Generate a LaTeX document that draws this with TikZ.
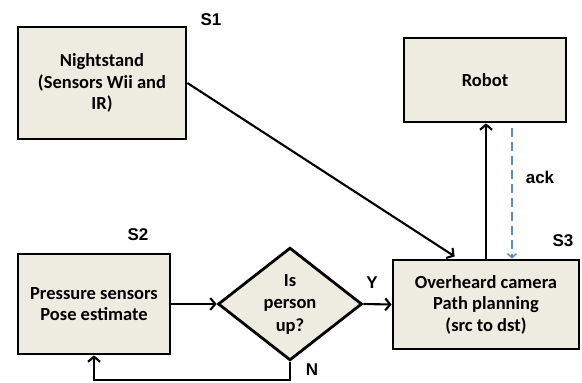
\documentclass[tikz,border=0pt]{standalone}
\usepackage{fontspec}
\setmainfont{Carlito}
\newfontfamily\tagfont{Liberation Sans}
\usetikzlibrary{shapes.geometric,arrows.meta}
\definecolor{boxfill}{HTML}{EEECE1}
\definecolor{ackblue}{HTML}{5B8BC6}
\tikzset{
  block/.style={
    % The shape:
    shape=rectangle,inner sep=0pt,
    % The border:
    line width=2.8pt,draw=black,
    % The filling:
    fill=boxfill,
    % The text:
    align=center,font=\bfseries\fontsize{18.5}{21.5}\selectfont}}
\tikzset{
  test/.style={
    % The shape:
    diamond,inner sep=0pt,
    % The rest
    line width=2.8pt,draw=black,fill=boxfill,
    align=center,font=\bfseries\fontsize{18.5}{22.5}\selectfont}}
\tikzset{
  tag/.style={font=\tagfont\bfseries\fontsize{17}{20}\selectfont,inner sep=0pt},
  flow/.style={line width=2.1pt,-{Straight Barb[length=5pt,width=12pt,line width=2.1pt]}},
  ackline/.style={line width=1.5pt,draw=ackblue,dash pattern=on 9pt off 5pt,
    -{Straight Barb[length=4pt,width=9pt,line width=1.5pt]}}}

\begin{document}
\begin{tikzpicture}[x=1pt,y=-1pt]
	\useasboundingbox (0,0) rectangle (582,383);
	% Boxes
	\node[block,minimum width=168pt,minimum height=112pt] (night) at (102,83)
		{Nightstand\\(Sensors Wii and\\IR)};
	\node[block,minimum width=162pt,minimum height=84pt] (robot) at (485,80) {Robot};
	\node[block,minimum width=152pt,minimum height=100pt] (press) at (94,304)
		{Pressure sensors\\Pose estimate};
	\node[test,minimum width=144pt,minimum height=110pt] (up) at (290,304)
		{Is\\person\\up?};
	\node[block,minimum width=186pt,minimum height=89pt] (cam) at (486,304.5)
		{Overheard camera\\Path planning\\(src to dst)};
	% Stage labels
	\node[tag] (s1) at (211,20) {S1};
	\node[tag] (s2) at (138,235) {S2};
	\node[tag] (s3) at (563,241) {S3};
	\node[tag] (yes) at (372,283) {Y};
	\node[tag] (no) at (312,370) {N};
	\node[tag] (ack) at (540,177) {ack};
	% Lines out of the sensors
	\draw[flow,shorten >=4pt] (night.east) -- ([xshift=-28pt]cam.north);
	\draw[flow] (press.east) -- (up.west);
	% Lines out of the test
	\draw[flow] (up.east) -- (cam.west);
	\draw[flow] (up.south) -- ++(0,18) -| (press.south);
	% Lines between camera and robot
	\draw[flow] (cam.north) -- (cam.north |- robot.south);
	\draw[ackline,shorten <=5pt] ([xshift=26pt]cam.north |- robot.south) -- ([xshift=26pt]cam.north);
\end{tikzpicture}
\end{document}
